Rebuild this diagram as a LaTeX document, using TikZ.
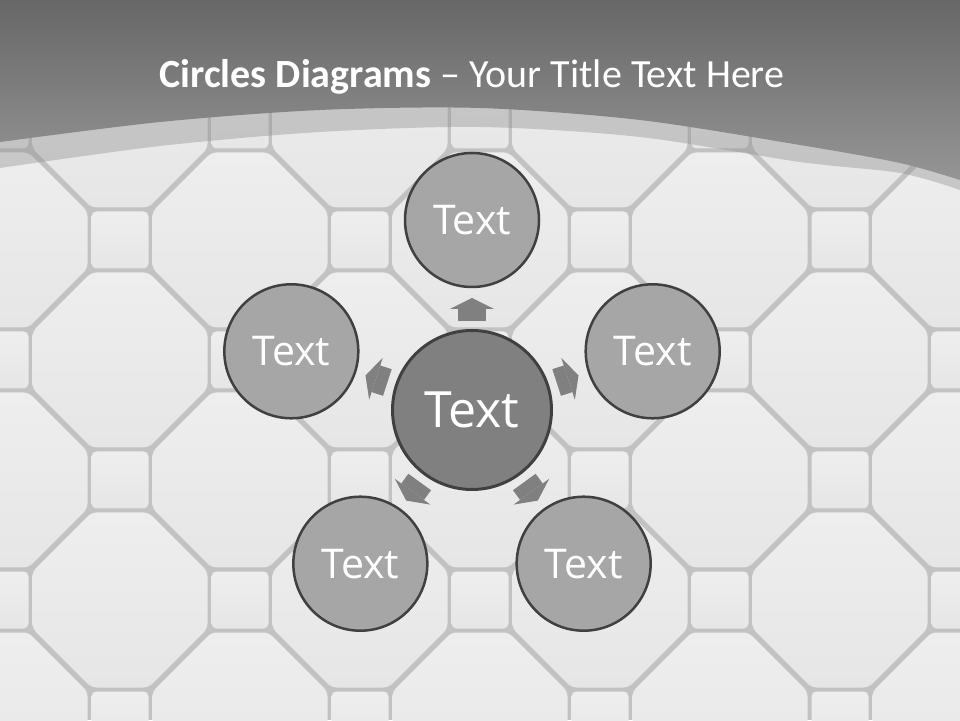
\documentclass[tikz,border=0pt]{standalone}
\usepackage{fontspec}
\newfontfamily\titlefont{Carlito}
\newfontfamily\circlefont{Open Sans}
\usetikzlibrary{arrows.meta}
\definecolor{grout}{HTML}{C2C2C2}
\definecolor{tiletop}{HTML}{EEEEEE}
\definecolor{tilebot}{HTML}{E6E6E6}
\definecolor{headtop}{HTML}{676767}
\definecolor{headbot}{HTML}{959595}
\definecolor{bandgray}{HTML}{8F8F8F}
\definecolor{hubfill}{HTML}{808080}
\definecolor{leaffill}{HTML}{A6A6A6}
\definecolor{rim}{HTML}{404040}
\begin{document}
\begin{tikzpicture}[x=1pt,y=1pt,line join=round,
    tile/.style={top color=tiletop,bottom color=tilebot,rounded corners=5pt},
    hub/.style={circle,fill=hubfill,draw=rim,line width=3pt,minimum size=159pt,inner sep=0pt,
        text=white,font=\circlefont\fontsize{50}{60}\selectfont},
    leaf/.style={circle,fill=leaffill,draw=rim,line width=2.5pt,minimum size=134pt,inner sep=0pt,
        text=white,font=\circlefont\fontsize{41}{49}\selectfont},
    pointer/.style={draw=hubfill,line width=28pt,-{Triangle[width=44pt,length=11pt,line width=0pt]},
        shorten <=89pt,shorten >=78pt}]
    \useasboundingbox (0,0) rectangle (960,720);
    \begin{scope}
        \clip (0,0) rectangle (960,720);
        \fill[grout] (0,0) rectangle (960,720);
        % octagons
        \foreach \x in {0,240,...,960}{
            \foreach \y in {0,240,...,720}{
                \shade[tile,shift={(\x,\y)}] (0,87.5) -- (28.5,87.5) -- (87.5,28.5) -- (87.5,-28.5) -- (28.5,-87.5) -- (-28.5,-87.5)
                    -- (-87.5,-28.5) -- (-87.5,28.5) -- (-28.5,87.5) -- cycle;
            }
        }
        \foreach \x in {120,360,...,840}{
            \foreach \y in {120,360,600}{
                \shade[tile,shift={(\x,\y)}] (0,87.5) -- (28.5,87.5) -- (87.5,28.5) -- (87.5,-28.5) -- (28.5,-87.5) -- (-28.5,-87.5)
                    -- (-87.5,-28.5) -- (-87.5,28.5) -- (-28.5,87.5) -- cycle;
            }
        }
        % squares
        \foreach \x in {120,360,...,840}{
            \foreach \y in {0,240,...,720}{
                \shade[tile] (\x-28.5,\y-28.5) rectangle (\x+28.5,\y+28.5);
            }
        }
        \foreach \x in {0,240,...,960}{
            \foreach \y in {120,360,600}{
                \shade[tile] (\x-28.5,\y-28.5) rectangle (\x+28.5,\y+28.5);
            }
        }
        % header
        \fill[bandgray,opacity=0.4] plot[smooth] coordinates {(0,552) (160,574) (320,588) (480,593) (640,583) (800,558) (900,547) (960,530)}
            -- (960,720) -- (0,720) -- cycle;
        \shade[top color=headtop,bottom color=headbot] plot[smooth] coordinates {(0,578) (160,598) (320,610) (480,612) (640,600) (800,575) (900,557) (960,540)}
            -- (960,720) -- (0,720) -- cycle;
    \end{scope}
    \node[anchor=base,text=white,font=\titlefont\fontsize{40}{48}\selectfont] (title) at (472,632)
        {\textbf{Circles Diagrams} – Your Title Text Here};
    \node[hub] (hub) at (472,310) {Text};
    \foreach \a/\n in {90/top,18/right,-54/lowright,-126/lowleft,162/left}{
        \node[leaf] (\n) at ([shift={(\a:190)}]hub) {Text};
        \draw[pointer] (hub.center) -- (\n.center);
    }
\end{tikzpicture}
\end{document}
